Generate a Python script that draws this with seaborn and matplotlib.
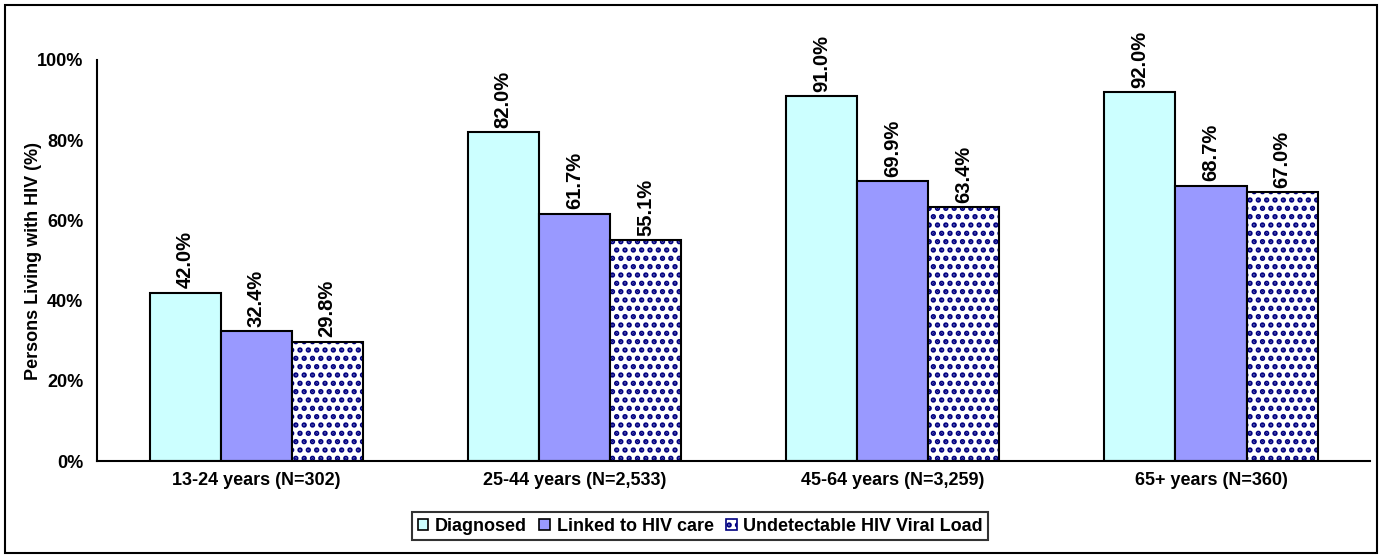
import numpy as np
import pandas as pd
import matplotlib
matplotlib.use("Agg")
import matplotlib.pyplot as plt
import matplotlib.patches as mpatches
from matplotlib.ticker import FuncFormatter, FixedLocator
import seaborn as sns

# Data
age_groups = ['13-24 years (N=302)', '25-44 years (N=2,533)',
              '45-64 years (N=3,259)', '65+ years (N=360)']
stages = ['Diagnosed', 'Linked to HIV care', 'Undetectable HIV Viral Load']
diagnosed = [42.0, 82.0, 91.0, 92.0]
linked = [32.4, 61.7, 69.9, 68.7]
undetectable = [29.8, 55.1, 63.4, 67.0]

stage_colors = ['#CCFFFF', '#9999FF', '#FFFFFF']
pattern_color = '#000080'

df = pd.DataFrame({
    'group': age_groups * 3,
    'stage': np.repeat(stages, len(age_groups)),
    'value': diagnosed + linked + undetectable,
})

sns.set_style('white')
plt.rcParams['font.family'] = ['Liberation Sans', 'DejaVu Sans']
plt.rcParams['font.weight'] = 'bold'
plt.rcParams['text.color'] = 'black'
plt.rcParams['axes.labelcolor'] = 'black'
plt.rcParams['xtick.color'] = 'black'
plt.rcParams['ytick.color'] = 'black'
plt.rcParams['hatch.linewidth'] = 2.6

fig = plt.figure(figsize=(13.84, 5.58), dpi=100)
ax = fig.add_axes([0.0701, 0.1738, 0.9199, 0.7187])

sns.barplot(data=df, x='group', y='value', hue='stage', hue_order=stages,
            palette=stage_colors, saturation=1, width=0.67, gap=0,
            edgecolor='black', linewidth=1.5, legend=False, ax=ax)

# Patterned third series: navy hatch, then a black outline on top
for bar in ax.containers[2]:
    bar.set_hatch('..')
    bar.set_edgecolor(pattern_color)
    bar.set_linewidth(0)
    outline = mpatches.Rectangle(bar.get_xy(), bar.get_width(), bar.get_height(),
                                 fill=False, edgecolor='black', linewidth=1.5,
                                 zorder=bar.get_zorder() + 0.1)
    ax.add_patch(outline)

for cont in ax.containers:
    ax.bar_label(cont, fmt='{:.1f}%', rotation=90, padding=3,
                 fontsize=14.5, fontweight='bold', clip_on=False)

ax.set_ylim(0, 100)
ax.set_xlim(-0.5, len(age_groups) - 0.5)
ax.set_yticks(np.arange(0, 101, 20))
ax.yaxis.set_major_formatter(FuncFormatter(lambda v, p: f'{v:.0f}%'))
ax.xaxis.set_minor_locator(FixedLocator(np.arange(-0.5, len(age_groups), 1.0)))
ax.tick_params(axis='x', which='major', length=0, pad=8, labelsize=13)
ax.tick_params(axis='x', which='minor', length=6, width=1.5, direction='out')
ax.tick_params(axis='y', length=6, width=1.5, direction='out', labelsize=13, pad=4)
for lab in ax.get_xticklabels() + ax.get_yticklabels():
    lab.set_fontweight('bold')

ax.set_xlabel('')
ax.set_ylabel('Persons Living with HIV (%)', fontsize=13, fontweight='bold')
ax.yaxis.set_label_coords(-0.043, 0.5)

sns.despine(ax=ax)
for side in ['left', 'bottom']:
    ax.spines[side].set_linewidth(1.5)
    ax.spines[side].set_color('black')

handles = [
    mpatches.Patch(facecolor=stage_colors[0], edgecolor='black', linewidth=1.2),
    mpatches.Patch(facecolor=stage_colors[1], edgecolor='black', linewidth=1.2),
    mpatches.Patch(facecolor='white', edgecolor=pattern_color, hatch='..', linewidth=1.2),
]
leg = fig.legend(handles, stages, loc='center', bbox_to_anchor=(0.506, 0.057),
                 ncol=3, fontsize=13, frameon=True, fancybox=False,
                 handlelength=0.6, handleheight=0.6, handletextpad=0.35,
                 columnspacing=0.7, borderpad=0.3)
leg.get_frame().set_edgecolor('black')
leg.get_frame().set_linewidth(1.5)
for t in leg.get_texts():
    t.set_fontweight('bold')

# Outer border around the whole chart
fig.patches.append(mpatches.Rectangle((0.0036, 0.009), 0.9913, 0.982,
                                      transform=fig.transFigure, fill=False,
                                      edgecolor='black', linewidth=1.5))

fig.savefig('out.png', dpi=100)
